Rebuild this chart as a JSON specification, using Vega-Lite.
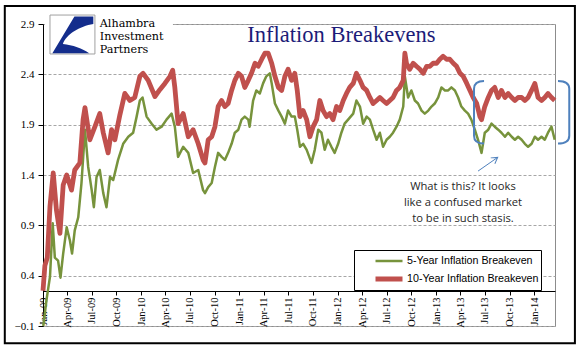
{
  "$schema": "https://vega.github.io/schema/vega-lite/v6.json",
  "autosize": "none",
  "width": 512,
  "height": 302,
  "padding": {"left": 43, "top": 24, "right": 28, "bottom": 35},
  "background": "white",
  "config": {
    "view": {"stroke": "#8c8c8c", "strokeWidth": 1},
    "legend": {
      "orient": "none", "legendX": 311, "legendY": 226, "direction": "vertical",
      "strokeColor": "#000", "fillColor": "#fff", "padding": 2, "clipHeight": 18, "rowPadding": 0,
      "symbolType": "stroke", "symbolSize": 729, "symbolOffset": 17, "labelOffset": 2,
      "labelFont": "Liberation Sans", "labelFontSize": 10.7, "labelColor": "#000"
    }
  },
  "layer": [
    {
      "data": {"values": [
        {"d":"2009-01-02","s":"5Y","v":-0.10},{"d":"2009-01-09","s":"5Y","v":0.05},{"d":"2009-01-14","s":"5Y","v":0.16},{"d":"2009-01-27","s":"5Y","v":0.39},{"d":"2009-02-06","s":"5Y","v":0.92},{"d":"2009-02-14","s":"5Y","v":0.58},{"d":"2009-02-26","s":"5Y","v":0.55},{"d":"2009-03-07","s":"5Y","v":0.38},{"d":"2009-03-17","s":"5Y","v":0.62},{"d":"2009-03-30","s":"5Y","v":0.88},{"d":"2009-04-11","s":"5Y","v":0.75},{"d":"2009-04-19","s":"5Y","v":0.62},{"d":"2009-04-29","s":"5Y","v":0.85},{"d":"2009-05-12","s":"5Y","v":0.98},{"d":"2009-05-24","s":"5Y","v":1.32},{"d":"2009-06-06","s":"5Y","v":1.85},{"d":"2009-06-18","s":"5Y","v":1.48},{"d":"2009-07-01","s":"5Y","v":1.25},{"d":"2009-07-09","s":"5Y","v":1.08},{"d":"2009-07-19","s":"5Y","v":1.38},{"d":"2009-07-31","s":"5Y","v":1.45},{"d":"2009-08-13","s":"5Y","v":1.22},{"d":"2009-08-25","s":"5Y","v":1.08},{"d":"2009-09-07","s":"5Y","v":1.38},{"d":"2009-09-19","s":"5Y","v":1.35},{"d":"2009-10-07","s":"5Y","v":1.55},{"d":"2009-10-26","s":"5Y","v":1.71},{"d":"2009-11-14","s":"5Y","v":1.78},{"d":"2009-12-02","s":"5Y","v":1.82},{"d":"2009-12-15","s":"5Y","v":1.98},{"d":"2009-12-27","s":"5Y","v":2.14},
        {"d":"2010-01-06","s":"5Y","v":2.17},{"d":"2010-01-21","s":"5Y","v":1.98},{"d":"2010-02-09","s":"5Y","v":1.91},{"d":"2010-02-27","s":"5Y","v":1.85},{"d":"2010-03-18","s":"5Y","v":1.88},{"d":"2010-04-05","s":"5Y","v":1.95},{"d":"2010-04-24","s":"5Y","v":2.01},{"d":"2010-05-06","s":"5Y","v":1.88},{"d":"2010-05-18","s":"5Y","v":1.58},{"d":"2010-06-06","s":"5Y","v":1.68},{"d":"2010-06-25","s":"5Y","v":1.62},{"d":"2010-07-13","s":"5Y","v":1.42},{"d":"2010-08-01","s":"5Y","v":1.45},{"d":"2010-08-19","s":"5Y","v":1.25},{"d":"2010-08-26","s":"5Y","v":1.22},{"d":"2010-09-07","s":"5Y","v":1.28},{"d":"2010-09-20","s":"5Y","v":1.32},{"d":"2010-10-02","s":"5Y","v":1.48},{"d":"2010-10-14","s":"5Y","v":1.62},{"d":"2010-10-27","s":"5Y","v":1.58},{"d":"2010-11-08","s":"5Y","v":1.55},{"d":"2010-11-20","s":"5Y","v":1.62},{"d":"2010-12-03","s":"5Y","v":1.71},{"d":"2010-12-15","s":"5Y","v":1.82},{"d":"2010-12-28","s":"5Y","v":1.85},
        {"d":"2011-01-09","s":"5Y","v":1.95},{"d":"2011-01-21","s":"5Y","v":1.98},{"d":"2011-02-03","s":"5Y","v":1.95},{"d":"2011-02-08","s":"5Y","v":1.88},{"d":"2011-02-21","s":"5Y","v":2.14},{"d":"2011-03-05","s":"5Y","v":2.24},{"d":"2011-03-18","s":"5Y","v":2.21},{"d":"2011-03-30","s":"5Y","v":2.31},{"d":"2011-04-11","s":"5Y","v":2.38},{"d":"2011-04-24","s":"5Y","v":2.41},{"d":"2011-05-01","s":"5Y","v":2.31},{"d":"2011-05-13","s":"5Y","v":2.11},{"d":"2011-05-26","s":"5Y","v":2.04},{"d":"2011-06-07","s":"5Y","v":1.98},{"d":"2011-06-19","s":"5Y","v":1.91},{"d":"2011-07-01","s":"5Y","v":2.04},{"d":"2011-07-14","s":"5Y","v":1.98},{"d":"2011-07-26","s":"5Y","v":1.98},{"d":"2011-08-04","s":"5Y","v":1.85},{"d":"2011-08-14","s":"5Y","v":1.68},{"d":"2011-08-26","s":"5Y","v":1.71},{"d":"2011-09-08","s":"5Y","v":1.65},{"d":"2011-09-26","s":"5Y","v":1.52},{"d":"2011-10-08","s":"5Y","v":1.65},{"d":"2011-10-21","s":"5Y","v":1.85},{"d":"2011-11-02","s":"5Y","v":1.82},{"d":"2011-11-14","s":"5Y","v":1.65},{"d":"2011-11-26","s":"5Y","v":1.75},{"d":"2011-12-09","s":"5Y","v":1.68},{"d":"2011-12-21","s":"5Y","v":1.62},
        {"d":"2012-01-03","s":"5Y","v":1.71},{"d":"2012-01-15","s":"5Y","v":1.82},{"d":"2012-01-27","s":"5Y","v":1.91},{"d":"2012-02-09","s":"5Y","v":1.95},{"d":"2012-02-28","s":"5Y","v":2.01},{"d":"2012-03-11","s":"5Y","v":2.14},{"d":"2012-03-24","s":"5Y","v":2.08},{"d":"2012-04-05","s":"5Y","v":1.91},{"d":"2012-04-18","s":"5Y","v":1.98},{"d":"2012-04-30","s":"5Y","v":1.95},{"d":"2012-05-12","s":"5Y","v":1.85},{"d":"2012-05-25","s":"5Y","v":1.75},{"d":"2012-06-06","s":"5Y","v":1.82},{"d":"2012-06-18","s":"5Y","v":1.68},{"d":"2012-07-01","s":"5Y","v":1.75},{"d":"2012-07-13","s":"5Y","v":1.78},{"d":"2012-07-25","s":"5Y","v":1.82},{"d":"2012-08-07","s":"5Y","v":1.88},{"d":"2012-08-19","s":"5Y","v":1.95},{"d":"2012-09-01","s":"5Y","v":2.08},{"d":"2012-09-07","s":"5Y","v":2.38},{"d":"2012-09-19","s":"5Y","v":2.17},{"d":"2012-10-01","s":"5Y","v":2.24},{"d":"2012-10-14","s":"5Y","v":2.14},{"d":"2012-10-26","s":"5Y","v":2.11},{"d":"2012-11-08","s":"5Y","v":2.04},{"d":"2012-11-20","s":"5Y","v":2.01},{"d":"2012-12-03","s":"5Y","v":2.04},{"d":"2012-12-15","s":"5Y","v":2.08},{"d":"2012-12-27","s":"5Y","v":2.11},
        {"d":"2013-01-09","s":"5Y","v":2.17},{"d":"2013-01-21","s":"5Y","v":2.27},{"d":"2013-02-03","s":"5Y","v":2.24},{"d":"2013-02-15","s":"5Y","v":2.24},{"d":"2013-02-27","s":"5Y","v":2.27},{"d":"2013-03-12","s":"5Y","v":2.24},{"d":"2013-03-24","s":"5Y","v":2.17},{"d":"2013-04-05","s":"5Y","v":2.08},{"d":"2013-04-18","s":"5Y","v":2.04},{"d":"2013-04-30","s":"5Y","v":2.01},{"d":"2013-05-12","s":"5Y","v":1.95},{"d":"2013-05-25","s":"5Y","v":1.85},{"d":"2013-06-06","s":"5Y","v":1.75},{"d":"2013-06-19","s":"5Y","v":1.62},{"d":"2013-07-01","s":"5Y","v":1.82},{"d":"2013-07-14","s":"5Y","v":1.85},{"d":"2013-07-26","s":"5Y","v":1.91},{"d":"2013-08-07","s":"5Y","v":1.88},{"d":"2013-08-20","s":"5Y","v":1.85},{"d":"2013-09-01","s":"5Y","v":1.82},{"d":"2013-09-14","s":"5Y","v":1.78},{"d":"2013-09-26","s":"5Y","v":1.82},{"d":"2013-10-09","s":"5Y","v":1.78},{"d":"2013-10-21","s":"5Y","v":1.75},{"d":"2013-11-02","s":"5Y","v":1.78},{"d":"2013-11-15","s":"5Y","v":1.75},{"d":"2013-11-27","s":"5Y","v":1.71},{"d":"2013-12-09","s":"5Y","v":1.68},{"d":"2013-12-22","s":"5Y","v":1.71},
        {"d":"2014-01-03","s":"5Y","v":1.78},{"d":"2014-01-15","s":"5Y","v":1.75},{"d":"2014-01-28","s":"5Y","v":1.78},{"d":"2014-02-09","s":"5Y","v":1.75},{"d":"2014-02-21","s":"5Y","v":1.82},{"d":"2014-03-06","s":"5Y","v":1.88},{"d":"2014-03-18","s":"5Y","v":1.75},
        {"d":"2009-01-01","s":"10Y","v":0.25},{"d":"2009-01-08","s":"10Y","v":0.50},{"d":"2009-01-17","s":"10Y","v":0.58},{"d":"2009-01-27","s":"10Y","v":1.09},{"d":"2009-02-08","s":"10Y","v":1.42},{"d":"2009-02-20","s":"10Y","v":1.05},{"d":"2009-03-05","s":"10Y","v":0.82},{"d":"2009-03-17","s":"10Y","v":1.30},{"d":"2009-03-30","s":"10Y","v":1.40},{"d":"2009-04-17","s":"10Y","v":1.25},{"d":"2009-04-29","s":"10Y","v":1.45},{"d":"2009-05-18","s":"10Y","v":1.52},{"d":"2009-05-30","s":"10Y","v":1.95},{"d":"2009-06-06","s":"10Y","v":2.07},{"d":"2009-06-24","s":"10Y","v":1.75},{"d":"2009-07-13","s":"10Y","v":1.88},{"d":"2009-07-31","s":"10Y","v":2.01},{"d":"2009-08-13","s":"10Y","v":1.82},{"d":"2009-08-31","s":"10Y","v":1.62},{"d":"2009-09-13","s":"10Y","v":1.85},{"d":"2009-09-25","s":"10Y","v":1.75},{"d":"2009-10-14","s":"10Y","v":2.00},{"d":"2009-11-01","s":"10Y","v":2.21},{"d":"2009-11-20","s":"10Y","v":2.14},{"d":"2009-12-08","s":"10Y","v":2.17},{"d":"2009-12-27","s":"10Y","v":2.38},
        {"d":"2010-01-08","s":"10Y","v":2.41},{"d":"2010-01-27","s":"10Y","v":2.34},{"d":"2010-02-21","s":"10Y","v":2.18},{"d":"2010-03-12","s":"10Y","v":2.25},{"d":"2010-03-30","s":"10Y","v":2.31},{"d":"2010-04-18","s":"10Y","v":2.38},{"d":"2010-04-28","s":"10Y","v":2.44},{"d":"2010-05-06","s":"10Y","v":2.27},{"d":"2010-05-18","s":"10Y","v":1.91},{"d":"2010-06-06","s":"10Y","v":2.01},{"d":"2010-06-25","s":"10Y","v":1.78},{"d":"2010-07-13","s":"10Y","v":1.85},{"d":"2010-08-01","s":"10Y","v":1.71},{"d":"2010-08-19","s":"10Y","v":1.55},{"d":"2010-08-26","s":"10Y","v":1.52},{"d":"2010-09-07","s":"10Y","v":1.75},{"d":"2010-09-20","s":"10Y","v":1.78},{"d":"2010-10-02","s":"10Y","v":1.88},{"d":"2010-10-14","s":"10Y","v":2.08},{"d":"2010-10-27","s":"10Y","v":2.14},{"d":"2010-11-08","s":"10Y","v":2.08},{"d":"2010-11-20","s":"10Y","v":2.11},{"d":"2010-12-03","s":"10Y","v":2.24},{"d":"2010-12-15","s":"10Y","v":2.34},{"d":"2010-12-28","s":"10Y","v":2.41},
        {"d":"2011-01-09","s":"10Y","v":2.38},{"d":"2011-01-21","s":"10Y","v":2.27},{"d":"2011-02-03","s":"10Y","v":2.34},{"d":"2011-02-15","s":"10Y","v":2.41},{"d":"2011-02-28","s":"10Y","v":2.51},{"d":"2011-03-12","s":"10Y","v":2.48},{"d":"2011-03-25","s":"10Y","v":2.55},{"d":"2011-04-06","s":"10Y","v":2.61},{"d":"2011-04-18","s":"10Y","v":2.61},{"d":"2011-05-01","s":"10Y","v":2.51},{"d":"2011-05-13","s":"10Y","v":2.38},{"d":"2011-05-26","s":"10Y","v":2.27},{"d":"2011-06-07","s":"10Y","v":2.24},{"d":"2011-06-19","s":"10Y","v":2.38},{"d":"2011-07-01","s":"10Y","v":2.45},{"d":"2011-07-14","s":"10Y","v":2.34},{"d":"2011-07-26","s":"10Y","v":2.41},{"d":"2011-08-04","s":"10Y","v":2.24},{"d":"2011-08-14","s":"10Y","v":1.98},{"d":"2011-08-26","s":"10Y","v":2.04},{"d":"2011-09-08","s":"10Y","v":1.95},{"d":"2011-09-20","s":"10Y","v":1.78},{"d":"2011-10-02","s":"10Y","v":1.88},{"d":"2011-10-15","s":"10Y","v":1.95},{"d":"2011-10-27","s":"10Y","v":2.14},{"d":"2011-11-08","s":"10Y","v":2.04},{"d":"2011-11-21","s":"10Y","v":1.98},{"d":"2011-12-03","s":"10Y","v":2.01},{"d":"2011-12-15","s":"10Y","v":1.95},{"d":"2011-12-28","s":"10Y","v":2.08},
        {"d":"2012-01-09","s":"10Y","v":2.04},{"d":"2012-01-22","s":"10Y","v":2.14},{"d":"2012-02-03","s":"10Y","v":2.21},{"d":"2012-02-15","s":"10Y","v":2.27},{"d":"2012-02-28","s":"10Y","v":2.31},{"d":"2012-03-11","s":"10Y","v":2.41},{"d":"2012-03-24","s":"10Y","v":2.34},{"d":"2012-04-05","s":"10Y","v":2.27},{"d":"2012-04-18","s":"10Y","v":2.24},{"d":"2012-04-30","s":"10Y","v":2.17},{"d":"2012-05-12","s":"10Y","v":2.11},{"d":"2012-05-25","s":"10Y","v":2.14},{"d":"2012-06-06","s":"10Y","v":2.17},{"d":"2012-06-18","s":"10Y","v":2.14},{"d":"2012-07-01","s":"10Y","v":2.11},{"d":"2012-07-13","s":"10Y","v":2.14},{"d":"2012-07-25","s":"10Y","v":2.17},{"d":"2012-08-07","s":"10Y","v":2.24},{"d":"2012-08-19","s":"10Y","v":2.27},{"d":"2012-09-01","s":"10Y","v":2.34},{"d":"2012-09-07","s":"10Y","v":2.61},{"d":"2012-09-13","s":"10Y","v":2.51},{"d":"2012-09-25","s":"10Y","v":2.45},{"d":"2012-10-08","s":"10Y","v":2.51},{"d":"2012-10-20","s":"10Y","v":2.48},{"d":"2012-11-02","s":"10Y","v":2.45},{"d":"2012-11-14","s":"10Y","v":2.41},{"d":"2012-11-27","s":"10Y","v":2.48},{"d":"2012-12-09","s":"10Y","v":2.48},{"d":"2012-12-21","s":"10Y","v":2.51},
        {"d":"2013-01-03","s":"10Y","v":2.51},{"d":"2013-01-15","s":"10Y","v":2.55},{"d":"2013-01-27","s":"10Y","v":2.58},{"d":"2013-02-09","s":"10Y","v":2.55},{"d":"2013-02-21","s":"10Y","v":2.55},{"d":"2013-03-06","s":"10Y","v":2.51},{"d":"2013-03-18","s":"10Y","v":2.48},{"d":"2013-03-31","s":"10Y","v":2.41},{"d":"2013-04-12","s":"10Y","v":2.38},{"d":"2013-04-25","s":"10Y","v":2.31},{"d":"2013-05-07","s":"10Y","v":2.24},{"d":"2013-05-19","s":"10Y","v":2.17},{"d":"2013-06-01","s":"10Y","v":2.11},{"d":"2013-06-13","s":"10Y","v":1.98},{"d":"2013-06-19","s":"10Y","v":1.95},{"d":"2013-07-01","s":"10Y","v":2.08},{"d":"2013-07-14","s":"10Y","v":2.17},{"d":"2013-07-26","s":"10Y","v":2.24},{"d":"2013-08-07","s":"10Y","v":2.27},{"d":"2013-08-20","s":"10Y","v":2.17},{"d":"2013-09-01","s":"10Y","v":2.24},{"d":"2013-09-14","s":"10Y","v":2.17},{"d":"2013-09-26","s":"10Y","v":2.21},{"d":"2013-10-09","s":"10Y","v":2.17},{"d":"2013-10-21","s":"10Y","v":2.14},{"d":"2013-11-02","s":"10Y","v":2.17},{"d":"2013-11-15","s":"10Y","v":2.17},{"d":"2013-11-27","s":"10Y","v":2.14},{"d":"2013-12-09","s":"10Y","v":2.17},{"d":"2013-12-22","s":"10Y","v":2.24},
        {"d":"2014-01-03","s":"10Y","v":2.31},{"d":"2014-01-15","s":"10Y","v":2.17},{"d":"2014-01-28","s":"10Y","v":2.14},{"d":"2014-02-09","s":"10Y","v":2.17},{"d":"2014-02-21","s":"10Y","v":2.21},{"d":"2014-03-06","s":"10Y","v":2.17},{"d":"2014-03-18","s":"10Y","v":2.14}
      ]},
      "mark": {"type": "line", "strokeJoin": "round"},
      "encoding": {
        "x": {"field": "d", "type": "temporal",
          "scale": {"domain": [{"year": 2009, "month": 1, "date": 1}, {"year": 2014, "month": 3, "date": 19}], "nice": false},
          "axis": {"title": null, "format": "%b-%y", "tickCount": {"interval": "month", "step": 3}, "labelAngle": -90, "offset": -35, "grid": false,
            "labelFont": "Liberation Serif", "labelFontSize": 10.5, "labelColor": "#000", "domainColor": "#000", "tickColor": "#000", "tickSize": 4,
            "labelPadding": 2, "labelOverlap": false, "labelFlush": false, "labelBound": false}},
        "y": {"field": "v", "type": "quantitative",
          "scale": {"domain": [-0.1, 2.9], "nice": false, "zero": false},
          "axis": {"title": null, "values": [-0.1, 0.4, 0.9, 1.4, 1.9, 2.4, 2.9], "format": ".1f", "grid": true, "gridColor": "#a6a6a6", "gridDash": [3, 2],
            "labelFont": "Liberation Serif", "labelFontSize": 11, "labelColor": "#000", "domainColor": "#000", "tickColor": "#000", "tickSize": 5, "labelPadding": 4}},
        "color": {"field": "s", "type": "nominal",
          "scale": {"domain": ["5Y", "10Y"], "range": ["#77933C", "#C0504D"]},
          "legend": {"title": null, "labelExpr": "datum.value == '5Y' ? '5-Year Inflation Breakeven\u00a0\u00a0\u00a0\u00a0\u00a0' : '10-Year Inflation Breakeven\u00a0\u00a0\u00a0\u00a0\u00a0'"}},
        "strokeWidth": {"field": "s", "type": "nominal",
          "scale": {"domain": ["5Y", "10Y"], "range": [2.5, 4.8]},
          "legend": {"title": null, "labelExpr": "datum.value == '5Y' ? '5-Year Inflation Breakeven\u00a0\u00a0\u00a0\u00a0\u00a0' : '10-Year Inflation Breakeven\u00a0\u00a0\u00a0\u00a0\u00a0'"}}
      }
    },
    {
      "data": {"values": [{}]},
      "mark": {"type": "rect", "fill": "white", "stroke": null},
      "encoding": {
        "x": {"datum": {"year": 2009, "month": 1, "date": 8}, "type": "temporal"},
        "x2": {"datum": {"year": 2010, "month": 4, "date": 29}},
        "y": {"datum": 2.999, "type": "quantitative"},
        "y2": {"datum": 2.572}
      }
    },
    {
      "data": {"values": [{}]},
      "mark": {"type": "rect", "fill": "white", "stroke": "#a0a0a0", "strokeWidth": 1},
      "encoding": {
        "x": {"datum": {"year": 2009, "month": 1, "date": 27}, "type": "temporal"},
        "x2": {"datum": {"year": 2009, "month": 7, "date": 13}},
        "y": {"datum": 2.989, "type": "quantitative"},
        "y2": {"datum": 2.602}
      }
    },
    {
      "data": {"values": [{}]},
      "mark": {"type": "point", "filled": true, "fill": "#142d8c", "opacity": 1, "strokeWidth": 0, "size": 1764,
        "shape": "M 0.1 -0.85 L 1 -0.85 L 1 -0.5 C 0.35 -0.4 -0.3 0 -0.45 0.45 C 0 0.5 0.5 0.65 0.8 0.9 L -0.95 0.9 Z"},
      "encoding": {
        "x": {"datum": {"year": 2009, "month": 4, "date": 20}, "type": "temporal"},
        "y": {"datum": 2.796, "type": "quantitative"}
      }
    },
    {
      "data": {"values": [{}]},
      "mark": {"type": "text", "text": ["Alhambra", "Investment", "Partners"], "font": "DejaVu Serif", "fontSize": 11.2, "lineHeight": 13,
        "align": "left", "baseline": "alphabetic", "color": "#000"},
      "encoding": {
        "x": {"datum": {"year": 2009, "month": 7, "date": 31}, "type": "temporal"},
        "y": {"datum": 2.872, "type": "quantitative"}
      }
    },
    {
      "data": {"values": [{}]},
      "mark": {"type": "text", "text": "Inflation Breakevens", "font": "Liberation Serif", "fontSize": 22.5,
        "align": "center", "baseline": "alphabetic", "color": "#1c1c78"},
      "encoding": {
        "x": {"datum": {"year": 2012, "month": 1, "date": 15}, "type": "temporal"},
        "y": {"datum": 2.718, "type": "quantitative"}
      }
    },
    {
      "data": {"values": [{}]},
      "mark": {"type": "text", "text": ["What is this? It looks", "like a confused market", "to be in such stasis."], "font": "Open Sans", "fontSize": 11.2, "lineHeight": 16,
        "align": "center", "baseline": "alphabetic", "color": "#262626"},
      "encoding": {
        "x": {"datum": {"year": 2013, "month": 4, "date": 11}, "type": "temporal"},
        "y": {"datum": 1.25, "type": "quantitative"}
      }
    },
    {
      "data": {"values": [{}]},
      "mark": {"type": "rule", "color": "#4F81BD", "strokeWidth": 1},
      "encoding": {
        "x": {"datum": {"year": 2013, "month": 6, "date": 6}, "type": "temporal"},
        "x2": {"datum": {"year": 2013, "month": 8, "date": 18}},
        "y": {"datum": 1.439, "type": "quantitative"},
        "y2": {"datum": 1.575}
      }
    },
    {
      "data": {"values": [{}]},
      "mark": {"type": "point", "filled": false, "stroke": "#4F81BD", "strokeWidth": 1, "opacity": 1, "size": 144, "angle": 325,
        "shape": "M -1 -0.6 L 0 0 L -1 0.6"},
      "encoding": {
        "x": {"datum": {"year": 2013, "month": 8, "date": 18}, "type": "temporal"},
        "y": {"datum": 1.575, "type": "quantitative"}
      }
    },
    {
      "data": {"values": [{}]},
      "mark": {"type": "point", "filled": false, "stroke": "#4F81BD", "strokeWidth": 2, "opacity": 1, "size": 3919,
        "shape": "M 0.32 -1 Q 0 -1 0 -0.75 L 0 0.75 Q 0 1 0.32 1"},
      "encoding": {
        "x": {"datum": {"year": 2013, "month": 5, "date": 22}, "type": "temporal"},
        "y": {"datum": 2.023, "type": "quantitative"}
      }
    },
    {
      "data": {"values": [{}]},
      "mark": {"type": "point", "filled": false, "stroke": "#4F81BD", "strokeWidth": 2, "opacity": 1, "size": 3919,
        "shape": "M -0.36 -1 Q 0 -1 0 -0.75 L 0 0.75 Q 0 1 -0.36 1"},
      "encoding": {
        "x": {"datum": {"year": 2014, "month": 5, "date": 11}, "type": "temporal"},
        "y": {"datum": 2.023, "type": "quantitative"}
      }
    },
    {
      "data": {"values": [{}]},
      "mark": {"type": "rect", "filled": false, "stroke": "#000", "strokeWidth": 2},
      "encoding": {
        "x": {"datum": {"year": 2008, "month": 8, "date": 12}, "type": "temporal"},
        "x2": {"datum": {"year": 2014, "month": 6, "date": 1}},
        "y": {"datum": 3.079, "type": "quantitative"},
        "y2": {"datum": -0.271}
      }
    }
  ]
}
